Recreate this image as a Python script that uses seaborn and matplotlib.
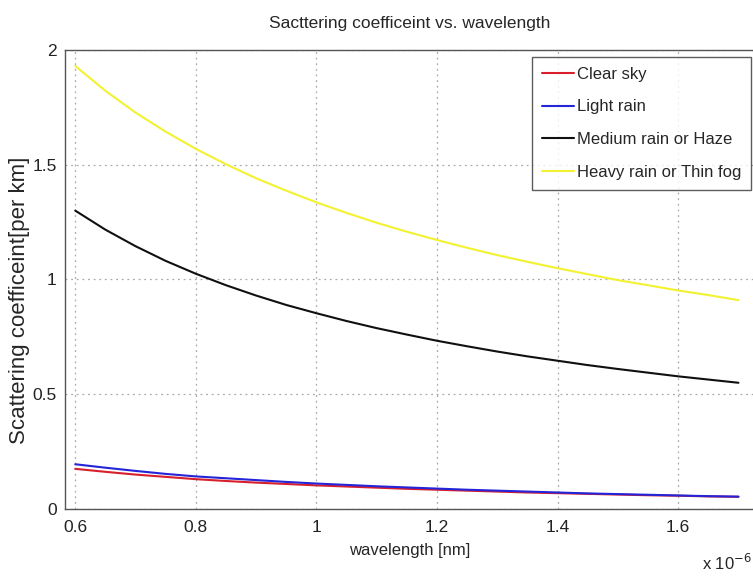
import numpy as np
import pandas as pd
import matplotlib
matplotlib.use("Agg")
import matplotlib.pyplot as plt
import seaborn as sns

wavelength = [0.60, 0.65, 0.70, 0.75, 0.80, 0.85, 0.90, 0.95, 1.00, 1.05, 1.10, 1.15,
              1.20, 1.25, 1.30, 1.35, 1.40, 1.45, 1.50, 1.55, 1.60, 1.65, 1.70]
clear_sky = [0.175, 0.162, 0.150, 0.140, 0.130, 0.122, 0.115, 0.109, 0.103, 0.098, 0.093, 0.088,
             0.084, 0.080, 0.076, 0.072, 0.069, 0.066, 0.063, 0.060, 0.058, 0.055, 0.053]
light_rain = [0.195, 0.180, 0.166, 0.153, 0.142, 0.134, 0.126, 0.118, 0.111, 0.105, 0.099, 0.094,
              0.089, 0.084, 0.080, 0.076, 0.072, 0.068, 0.065, 0.062, 0.059, 0.056, 0.054]
medium_rain = [1.300, 1.217, 1.145, 1.081, 1.025, 0.975, 0.930, 0.889, 0.853, 0.819, 0.788, 0.760,
               0.733, 0.709, 0.686, 0.665, 0.646, 0.627, 0.610, 0.594, 0.578, 0.564, 0.550]
heavy_rain = [1.930, 1.822, 1.727, 1.644, 1.569, 1.502, 1.441, 1.387, 1.336, 1.290, 1.247, 1.208,
              1.172, 1.138, 1.106, 1.077, 1.049, 1.023, 0.997, 0.975, 0.952, 0.932, 0.910]

series_names = ["Clear sky", "Light rain", "Medium rain or Haze", "Heavy rain or Thin fog"]
series_vals = [clear_sky, light_rain, medium_rain, heavy_rain]
colors = ["#d8202c", "#2424d8", "#101010", "#f2f230"]

x_ticks = [0.6, 0.8, 1.0, 1.2, 1.4, 1.6]
x_tick_labels = ["0.6", "0.8", "1", "1.2", "1.4", "1.6"]
y_ticks = [0, 0.5, 1, 1.5, 2]
y_tick_labels = ["0", "0.5", "1", "1.5", "2"]

rows = []
for name, vals in zip(series_names, series_vals):
    for x, y in zip(wavelength, vals):
        rows.append({"wavelength": x, "value": y, "series": name})
df = pd.DataFrame(rows)

sns.set_style("white")
plt.rcParams["font.family"] = ["Liberation Sans", "DejaVu Sans"]

fig = plt.figure(figsize=(7.53, 5.76), dpi=100)
ax = fig.add_axes([0.0863, 0.1163, 0.916, 0.797])

sns.lineplot(data=df, x="wavelength", y="value", hue="series", hue_order=series_names,
             palette=colors, linewidth=1.5, ax=ax, legend=True)

ax.set_xlim(0.583, 1.727)
ax.set_ylim(0, 2)
ax.set_xticks(x_ticks)
ax.set_xticklabels(x_tick_labels)
ax.set_yticks(y_ticks)
ax.set_yticklabels(y_tick_labels)
ax.tick_params(axis="both", direction="in", length=4, labelsize=12.5, colors="#222222")
ax.tick_params(axis="x", pad=8)
ax.tick_params(axis="y", pad=6)
ax.grid(True, linestyle=(0, (1.5, 3)), color="#aaaaaa", linewidth=0.9)
for s in ax.spines.values():
    s.set_color("#555555")
    s.set_linewidth(1.0)

ax.set_xlabel("wavelength [nm]", fontsize=12, labelpad=6)
ax.set_ylabel("Scattering coefficeint[per km]", fontsize=16)
ax.yaxis.set_label_coords(-0.051, 0.455)
ax.set_title("Sacttering coefficeint vs. wavelength", fontsize=12.5, pad=16)

fig.text(0.999, 0.005, "x 10$^{-6}$", ha="right", va="bottom", fontsize=12)

leg = ax.legend(loc="upper right", bbox_to_anchor=(751 / 753, 1 - 57 / 576),
                bbox_transform=fig.transFigure, borderaxespad=0.0,
                fontsize=12, frameon=True, fancybox=False,
                edgecolor="#333333", handlelength=1.9, handletextpad=0.15,
                borderpad=0.6, labelspacing=1.05)
leg.get_frame().set_linewidth(1.0)

fig.savefig("out.png", dpi=100)
